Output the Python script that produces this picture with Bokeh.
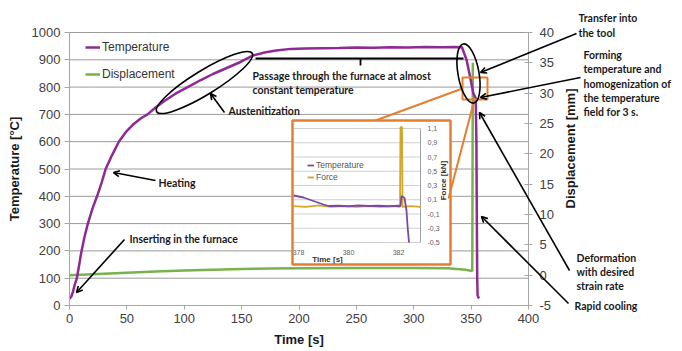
import math
from bokeh.plotting import figure
from bokeh.models import (Range1d, LinearAxis, FixedTicker, Label, Arrow, OpenHead,
                          Legend, LegendItem, PrintfTickFormatter)
from bokeh.core.properties import value
from bokeh.embed import file_html
from bokeh.resources import INLINE

# ---------------- data ----------------
temp_time = [0, 1.5, 3, 4.5, 6.4, 8.5, 10.5, 13, 16, 20, 24, 28, 31.5, 37, 43, 49, 56, 62, 68,
             75, 83, 92, 103, 114, 125, 137, 149, 160, 170, 180, 193, 205, 220, 235, 250, 265,
             280, 295, 310, 325, 335, 342, 346, 349, 352, 354, 354.6, 355, 355.3, 355.6, 356.2, 357]
temp_vals = [25, 32, 50, 75, 100, 150, 200, 250, 300, 355, 400, 450, 500, 550, 600, 635, 665, 685, 700,
             725, 750, 775, 800, 825, 848, 870, 892, 916, 927, 934, 940, 941, 942, 943, 945, 944,
             946, 945, 947, 946, 947, 946, 900, 840, 776, 760, 600, 300, 100, 40, 30, 26]

disp_time = [0, 25, 50, 75, 100, 125, 150, 175, 200, 250, 300, 330, 345, 351, 351.5]
disp_vals = [0.0, 0.2, 0.4, 0.6, 0.75, 0.9, 1.0, 1.1, 1.15, 1.2, 1.2, 1.15, 0.9, 0.7, 35.0]

inset_time_T = [377.8, 378.2, 378.6, 379.0, 379.2, 379.6, 380.0, 380.4, 380.8, 381.2, 381.6,
                382.0, 382.08, 382.12, 382.24, 382.32, 382.36, 382.42]
inset_temp = [800, 792, 778, 764, 758, 759, 757, 760, 758, 759, 757, 759, 758, 798, 790, 740, 680, 612]

inset_time_F = [377.8, 378.3, 378.8, 379.3, 379.8, 380.3, 380.8, 381.3, 381.8, 382.06,
                382.08, 382.14, 382.16, 382.5, 382.88]
inset_force = [0.01, 0.0, 0.02, 0.0, 0.01, 0.0, 0.01, 0.0, 0.01, 0.0, 1.12, 1.12, 0.0, 0.01, 0.0]

x_ticks = [0, 50, 100, 150, 200, 250, 300, 350, 400]
y_ticks = [0, 100, 200, 300, 400, 500, 600, 700, 800, 900, 1000]
disp_ticks = [-5, 0, 5, 10, 15, 20, 25, 30, 35, 40]
inset_x_ticks = [378, 380, 382]
inset_x_labels = ["378", "380", "382"]
inset_force_ticks = [1.1, 0.9, 0.7, 0.5, 0.3, 0.1, -0.1, -0.3, -0.5]
inset_force_labels = ["1,1", "0,9", "0,7", "0,5", "0,3", "0,1", "-0,1", "-0,3", "-0,5"]

# ---------------- layout helpers (reference picture pixels) ----------------
PAGE_L, PAGE_R, PAGE_T, PAGE_B = 0, 682, 0, 351
FL, FR, FT, FB = 69, 528, 32, 305
X0, X1, Y0, Y1 = 0, 400, 0, 1000
D0, D1 = -5, 40


def lin(p, p0, v0, p1, v1):
    return v0 + (p - p0) * (v1 - v0) / (p1 - p0)


def dx(px):
    return lin(px, FL, X0, FR, X1)


def dy(py):
    return lin(py, FB, Y0, FT, Y1)


def ddisp(py):
    return lin(py, FB, D0, FT, D1)


# inset plot area in picture pixels and its data limits
IL, IR, IT, IB = 293, 420, 128, 242
IX0, IX1 = 377.8, 382.88
IF0, IF1 = -0.5, 1.1
IT0, IT1 = 612, 1068


def ixp(px):
    return lin(px, IL, IX0, IR, IX1)


def iyp(py):
    return lin(py, IB, IF0, IT, IF1)


def itp(py):
    return lin(py, IB, IT0, IT, IT1)


PURPLE = "#8e2a93"
GREEN = "#78b24a"
ORANGE = "#e67e30"
GOLD = "#cfa82a"
IPURPLE = "#7b4aa0"
AXIS = "#a6a6a6"
TICKTXT = "#404040"

p = figure(frame_width=PAGE_R - PAGE_L, frame_height=PAGE_B - PAGE_T,
           x_range=Range1d(dx(PAGE_L), dx(PAGE_R)), y_range=Range1d(dy(PAGE_B), dy(PAGE_T)),
           output_backend="svg", toolbar_location=None, min_border=0,
           x_axis_location="below", y_axis_location="left")
p.outline_line_color = None
p.background_fill_color = "white"
p.xgrid.visible = False
p.ygrid.visible = False

p.extra_y_ranges = {
    "disp": Range1d(ddisp(PAGE_B), ddisp(PAGE_T)),
    "iy": Range1d(iyp(PAGE_B), iyp(PAGE_T)),
    "it": Range1d(itp(PAGE_B), itp(PAGE_T)),
}
p.extra_x_ranges = {"ix": Range1d(ixp(PAGE_L), ixp(PAGE_R))}

# gridlines of the main plot area
p.segment(x0=[X0] * len(y_ticks), x1=[X1] * len(y_ticks), y0=y_ticks, y1=y_ticks,
          line_color="#9a9a9a", line_width=1)

# axes, pinned to the plot area
xax = p.xaxis[0]
yax = p.yaxis[0]
right = LinearAxis(y_range_name="disp")
p.add_layout(right, "right")
xax.ticker = FixedTicker(ticks=x_ticks)
yax.ticker = FixedTicker(ticks=y_ticks)
right.ticker = FixedTicker(ticks=disp_ticks)
xax.fixed_location = Y0
yax.fixed_location = X0
right.fixed_location = X1
xax.bounds = (X0, X1)
yax.bounds = (Y0, Y1)
right.bounds = (D0, D1)

for ax in [xax, yax, right]:
    ax.formatter = PrintfTickFormatter(format="%d")
    ax.axis_line_color = AXIS
    ax.major_tick_line_color = AXIS
    ax.minor_tick_line_color = None
    ax.major_label_text_font = "Liberation Sans"
    ax.major_label_text_font_size = "13px"
    ax.major_label_text_color = TICKTXT
    ax.axis_label_text_font = "Liberation Sans"
    ax.axis_label_text_font_style = "bold"
    ax.axis_label_text_font_size = "13px"
    ax.axis_label_text_color = "#1a1a1a"

yax.major_tick_out = 5
yax.major_tick_in = 0
yax.major_label_standoff = 4
yax.axis_label = "Temperature [°C]"
yax.axis_label_standoff = 7

xax.major_tick_out = 4
xax.major_tick_in = 0
xax.major_label_standoff = 4
xax.axis_label = "Time [s]"
xax.axis_label_standoff = 6

right.major_tick_out = 4
right.major_tick_in = 4
right.major_label_standoff = 7

# main series
r_disp = p.line(disp_time, disp_vals, y_range_name="disp", line_color=GREEN, line_width=2.5)
r_temp = p.line(temp_time, temp_vals, line_color=PURPLE, line_width=2.5)

legend = Legend(items=[LegendItem(label="Temperature", renderers=[r_temp]),
                       LegendItem(label="Displacement", renderers=[r_disp])],
                location=(85, 267), glyph_width=15, glyph_height=20, label_height=20,
                label_standoff=2, spacing=7, padding=0, margin=0,
                border_line_color=None, background_fill_alpha=0,
                label_text_font="Liberation Sans", label_text_font_size="12px",
                label_text_color="#333333")
p.add_layout(legend)

# ---------------- inset ----------------
p.quad(left=[ixp(292)], right=[ixp(450)], top=[iyp(120)], bottom=[iyp(264)],
       x_range_name="ix", y_range_name="iy", fill_color="white", line_color=None)
p.segment(x0=[IX0] * len(inset_force_ticks), x1=[IX1] * len(inset_force_ticks),
          y0=inset_force_ticks, y1=inset_force_ticks, x_range_name="ix", y_range_name="iy",
          line_color="#cfcfcf", line_width=1)
p.segment(x0=[IX1], x1=[IX1], y0=[IF0], y1=[IF1], x_range_name="ix", y_range_name="iy",
          line_color="#a0a0a0", line_width=1)
r_if = p.line(inset_time_F, inset_force, x_range_name="ix", y_range_name="iy",
              line_color=GOLD, line_width=1.8)
r_it = p.line(inset_time_T, inset_temp, x_range_name="ix", y_range_name="it",
              line_color=IPURPLE, line_width=1.8)
p.text(x=[ixp(427)] * len(inset_force_ticks), y=inset_force_ticks, text=inset_force_labels,
       x_range_name="ix", y_range_name="iy", text_font=value("Liberation Sans"),
       text_font_size="7px", text_color="#606060", text_align="left", text_baseline="middle")
p.text(x=inset_x_ticks, y=[iyp(252)] * len(inset_x_ticks), text=inset_x_labels,
       x_range_name="ix", y_range_name="iy", text_font=value("Liberation Sans"),
       text_font_size="7px", text_color="#606060", text_align="center", text_baseline="middle")
p.text(x=[ixp(327)], y=[iyp(259)], text=["Time [s]"], x_range_name="ix", y_range_name="iy",
       text_font=value("Liberation Sans"), text_font_style="bold", text_font_size="8px",
       text_color="#333333", text_align="center", text_baseline="middle")
p.text(x=[ixp(443)], y=[iyp(180)], text=["Force [kN]"], x_range_name="ix", y_range_name="iy",
       angle=math.pi / 2, text_font=value("Liberation Sans"), text_font_style="bold",
       text_font_size="8px", text_color="#333333", text_align="center", text_baseline="middle")
p.quad(left=[ixp(292)], right=[ixp(450)], top=[iyp(120)], bottom=[iyp(264)],
       x_range_name="ix", y_range_name="iy", fill_color=None, line_color=ORANGE, line_width=2.5)

inset_legend = Legend(items=[LegendItem(label="Temperature", renderers=[r_it]),
                             LegendItem(label="Force", renderers=[r_if])],
                      location=(307, 168), glyph_width=7, glyph_height=12, label_height=12,
                      label_standoff=2, spacing=0, padding=0, margin=0,
                      border_line_color=None, background_fill_alpha=0,
                      label_text_font="Liberation Sans", label_text_font_size="8.5px",
                      label_text_color="#555555")
p.add_layout(inset_legend)

# zoom box and connectors
p.quad(left=[dx(462)], right=[dx(487)], top=[dy(77)], bottom=[dy(99)],
       fill_color=None, line_color=ORANGE, line_width=2)
p.segment(x0=[dx(375), dx(474)], y0=[dy(120), dy(99)], x1=[dx(462), dx(448)], y1=[dy(88), dy(198)],
          line_color=ORANGE, line_width=2)

# ---------------- annotations ----------------
p.ellipse(x=[dx(204)], y=[dy(82)], width=112, height=24, width_units="screen",
          height_units="screen", angle=math.radians(31.5), fill_color=None,
          line_color="black", line_width=1.6)
p.ellipse(x=[dx(468)], y=[dy(73)], width=60, height=21, width_units="screen",
          height_units="screen", angle=math.radians(100), fill_color=None,
          line_color="black", line_width=1.6)
p.segment(x0=[dx(255), dx(360)], y0=[dy(58), dy(58)], x1=[dx(463), dx(360)], y1=[dy(58), dy(65)],
          line_color="black", line_width=1.8)

arrows = [((224, 112), (210, 93)), ((155, 180), (113, 172)), ((124, 239), (76, 292)),
          ((576, 33), (480, 72)), ((580, 77), (480, 97)), ((569, 270), (479, 112)),
          ((568, 303), (481, 216))]
for (sx, sy), (ex, ey) in arrows:
    p.add_layout(Arrow(x_start=dx(sx), y_start=dy(sy), x_end=dx(ex), y_end=dy(ey),
                       line_color="black", line_width=1.6,
                       end=OpenHead(size=6, line_color="black", line_width=1.6)))

FONT = "Lato"
notes = [
    (228, 110, "Austenitization"),
    (252, 75, "Passage through the furnace at almost"),
    (252, 89, "constant temperature"),
    (158, 182, "Heating"),
    (129, 238, "Inserting in the furnace"),
    (578, 17, "Transfer into"),
    (578, 32, "the tool"),
    (583, 54, "Forming"),
    (583, 68, "temperature and"),
    (583, 83, "homogenization of"),
    (583, 97, "the temperature"),
    (583, 111, "field for 3 s."),
    (576, 257, "Deformation"),
    (576, 271, "with desired"),
    (576, 285, "strain rate"),
    (574, 305, "Rapid cooling"),
]
for px, py, t in notes:
    p.add_layout(Label(x=dx(px), y=dy(py), text=t, text_font=FONT, text_font_style="bold",
                       text_font_size="10.5px", text_color="#1a1a1a", text_align="left",
                       text_baseline="middle"))

p.add_layout(Label(x=dx(570), y=dy(148), text="Displacement [mm]", angle=math.pi / 2,
                   text_font="Liberation Sans", text_font_style="bold", text_font_size="13px",
                   text_color="#1a1a1a", text_align="center", text_baseline="middle"))

open("out.html", "w").write(file_html(p, INLINE))
